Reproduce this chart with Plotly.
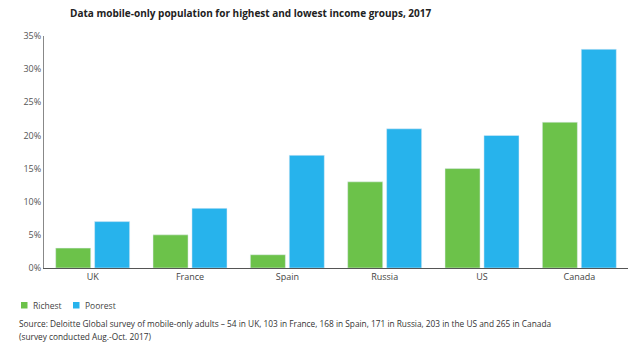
import plotly.graph_objects as go

countries = ["UK", "France", "Spain", "Russia", "US", "Canada"]
richest = [3, 5, 2, 13, 15, 22]
poorest = [7, 9, 17, 21, 20, 33]
series_names = ["Richest", "Poorest"]
series_colors = ["#6CC24A", "#27B3EC"]
ytick_vals = [0, 5, 10, 15, 20, 25, 30, 35]
ytick_text = ["0%", "5%", "10%", "15%", "20%", "25%", "30%", "35%"]

FONT = "Open Sans"
L, R, T, B, W, H = 44, 12, 36, 74, 640, 342
PW, PH = W - L - R, H - T - B

def px_x(px):
    return (px - L) / PW

def px_y(py):
    return (H - B - py) / PH

fig = go.Figure()
for name, vals, col in zip(series_names, [richest, poorest], series_colors):
    fig.add_trace(go.Bar(x=countries, y=vals, name=name, marker_color=col))

fig.update_layout(
    width=W, height=H,
    margin=dict(l=L, r=R, t=T, b=B, autoexpand=False),
    paper_bgcolor="white", plot_bgcolor="white",
    barmode="group", bargap=0.2, bargroupgap=0.1,
    font=dict(family=FONT, size=9, color="#444"),
    showlegend=False,
    title=dict(text="<b>Data mobile-only population for highest and lowest income groups, 2017</b>",
               xref="container", yref="container", x=70/W, y=1-13/H,
               xanchor="left", yanchor="middle",
               font=dict(family=FONT, size=10, color="#222")),
)
fig.update_xaxes(showline=True, linecolor="#555", linewidth=1, ticks="",
                 tickfont=dict(size=9, color="#444"), showgrid=False)
fig.update_yaxes(range=[0, 35], tickvals=ytick_vals, ticktext=ytick_text,
                 showline=True, linecolor="#888", linewidth=1, showgrid=False,
                 zeroline=False, ticks="", tickfont=dict(size=9, color="#555"))

# legend (manual, to match compact spacing)
leg_x = [21, 73]
for lx, name, col in zip(leg_x, series_names, series_colors):
    fig.add_shape(type="rect", xref="paper", yref="paper",
                  x0=px_x(lx), x1=px_x(lx + 6.5), y0=px_y(308.5), y1=px_y(302),
                  fillcolor=col, line_width=0)
    fig.add_annotation(xref="paper", yref="paper", x=px_x(lx + 10), y=px_y(305),
                       xanchor="left", yanchor="middle", showarrow=False,
                       text=name, font=dict(size=8.5, color="#444"))

fig.add_annotation(xref="paper", yref="paper", x=px_x(17), y=px_y(323),
                   xanchor="left", yanchor="middle", showarrow=False, align="left",
                   text="Source: Deloitte Global survey of mobile-only adults – 54 in UK, 103 in France, 168 in Spain, 171 in Russia, 203 in the US and 265 in Canada",
                   font=dict(size=8.3, color="#333"))
fig.add_annotation(xref="paper", yref="paper", x=px_x(17), y=px_y(336),
                   xanchor="left", yanchor="middle", showarrow=False, align="left",
                   text="(survey conducted Aug.-Oct. 2017)",
                   font=dict(size=8.3, color="#333"))

fig.write_html("out.html")
